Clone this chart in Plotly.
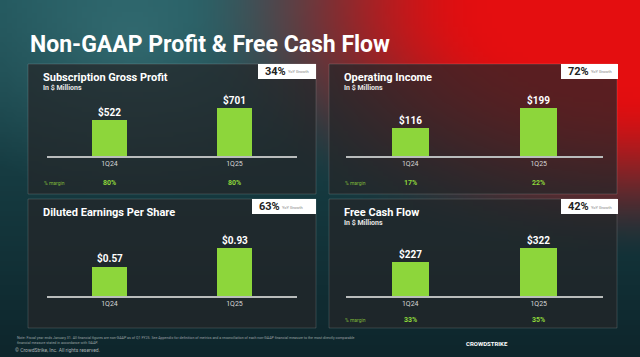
import zlib, struct, base64, math
import plotly.graph_objects as go

# ---------------- data ----------------
categories = ["1Q24", "1Q25"]
panel_titles = ["Subscription Gross Profit", "Operating Income",
                "Diluted Earnings Per Share", "Free Cash Flow"]
panel_subtitles = ["In &#36; Millions", "In &#36; Millions", "", "In &#36; Millions"]
sub_gross_profit = [522, 701]
operating_income = [116, 199]
diluted_eps = [0.57, 0.93]
free_cash_flow = [227, 322]
sub_gp_margin = ["80%", "80%"]
op_inc_margin = ["17%", "22%"]
fcf_margin = ["33%", "35%"]
yoy_growth = ["34%", "72%", "63%", "42%"]

W, H = 640, 357
GREEN = "#8dd63b"

# ---------------- background gradient (decoration) ----------------
def make_png(w, h, fn):
    rows = []
    for j in range(h):
        row = bytearray([0])
        for i in range(w):
            row.extend(fn(i / (w - 1), j / (h - 1)))
        rows.append(bytes(row))
    raw = b"".join(rows)
    def chunk(t, d):
        return struct.pack(">I", len(d)) + t + d + struct.pack(">I", zlib.crc32(t + d) & 0xffffffff)
    return (b"\x89PNG\r\n\x1a\n" + chunk(b"IHDR", struct.pack(">IIBBBBB", w, h, 8, 2, 0, 0, 0))
            + chunk(b"IDAT", zlib.compress(raw, 9)) + chunk(b"IEND", b""))

def bg(u, v):
    x, y = u * W, v * H
    t = min(1.0, y / H)
    base = [30 + (14 - 30) * t, 80 + (38 - 80) * t, 86 + (44 - 86) * t]
    glow = max(0.0, 1 - math.hypot((x - 130) / 220, (y - 40) / 160))
    base = [base[0] + 22 * glow, base[1] + 30 * glow, base[2] + 30 * glow]
    d = math.hypot((W - x) / 460, y / 265)
    w = max(0.0, min(1.0, (1 - d) * 1.5))
    w = w * w * (3 - 2 * w)
    red = [228, 14, 16]
    return [int(max(0, min(255, base[k] * (1 - w) + red[k] * w))) for k in range(3)]

png = make_png(128, 72, bg)
bg_src = "data:image/png;base64," + base64.b64encode(png).decode()

# ---------------- geometry helpers ----------------
def px(x):
    return x / W

def py(y):
    return 1 - y / H

panels = [
    dict(box=(28, 64, 316, 194), xdom=(47, 297), base=156.3, vals=sub_gross_profit,
         fmt="${:,.0f}", margin=sub_gp_margin, gbox=(258, 64, 316, 79), margin_y=183.3),
    dict(box=(329, 64, 617, 194), xdom=(346, 603), base=156.3, vals=operating_income,
         fmt="${:,.0f}", margin=op_inc_margin, gbox=(561, 64, 618, 79), margin_y=183.0),
    dict(box=(28, 199, 316, 328), xdom=(47, 297), base=296.3, vals=diluted_eps,
         fmt="${:.2f}", margin=None, gbox=(252, 199, 316, 214), margin_y=None),
    dict(box=(329, 199, 617, 328), xdom=(346, 603), base=296.3, vals=free_cash_flow,
         fmt="${:,.0f}", margin=fcf_margin, gbox=(561, 199, 618, 214), margin_y=320.0),
]

fig = go.Figure()
shapes, annotations, layout_axes = [], [], {}

for i, p in enumerate(panels):
    n = "" if i == 0 else str(i + 1)
    xa, ya = "x" + n, "y" + n
    fig.add_trace(go.Bar(x=categories, y=p["vals"], xaxis=xa, yaxis=ya,
                         marker=dict(color=GREEN, line=dict(width=0)), width=0.285,
                         showlegend=False, hoverinfo="skip"))
    ymax = max(p["vals"]) * 1.25
    layout_axes["xaxis" + n] = dict(
        domain=[px(p["xdom"][0]), px(p["xdom"][1])], range=[-0.5, 1.5], anchor=ya,
        showline=True, linecolor="#b9bcbc", linewidth=1.5, showgrid=False, zeroline=False,
        ticks="", tickfont=dict(family="Roboto", size=7, color="#d6d6d6"), fixedrange=True)
    layout_axes["yaxis" + n] = dict(
        domain=[py(p["base"]), py(p["base"] - 60)], range=[0, ymax], anchor=xa,
        visible=False, fixedrange=True)

    x0, y0, x1, y1 = p["box"]
    shapes.append(dict(type="rect", xref="paper", yref="paper", x0=px(x0), x1=px(x1),
                       y0=py(y1), y1=py(y0), layer="below",
                       fillcolor="rgba(36,37,40,0.72)",
                       line=dict(color="rgba(255,255,255,0.14)", width=1)))
    gx0, gy0, gx1, gy1 = p["gbox"]
    shapes.append(dict(type="rect", xref="paper", yref="paper", x0=px(gx0), x1=px(gx1),
                       y0=py(gy1), y1=py(gy0), fillcolor="#ffffff", line=dict(width=0)))
    annotations.append(dict(xref="paper", yref="paper", x=px(gx0 + 4.5), y=py((gy0 + gy1) / 2),
                            xanchor="left", yanchor="middle", showarrow=False,
                            text="<b>" + yoy_growth[i] + "</b>",
                            font=dict(family="Roboto", size=11, color="#222222")))
    annotations.append(dict(xref="paper", yref="paper", x=px(gx0 + 28), y=py((gy0 + gy1) / 2 + 0.5),
                            xanchor="left", yanchor="middle", showarrow=False,
                            text="YoY Growth", font=dict(family="Roboto", size=4, color="#888888")))

    # titles
    annotations.append(dict(xref="paper", yref="paper", x=px(x0 + 13), y=py(y0 + 13.5),
                            xanchor="left", yanchor="middle", showarrow=False,
                            text="<b>" + panel_titles[i] + "</b>",
                            font=dict(family="Roboto", size=11, color="#ffffff")))
    if panel_subtitles[i]:
        annotations.append(dict(xref="paper", yref="paper", x=px(x0 + 13), y=py(y0 + 24.3),
                                xanchor="left", yanchor="middle", showarrow=False,
                                text="<b>" + panel_subtitles[i] + "</b>",
                                font=dict(family="Roboto", size=7, color="#e6e6e6")))
    # value labels
    for c, v in zip(categories, p["vals"]):
        annotations.append(dict(xref=xa, yref=ya, x=c, y=v, yshift=8.5,
                                xanchor="center", yanchor="middle", showarrow=False,
                                text="<b>" + p["fmt"].format(v) + "</b>",
                                font=dict(family="Roboto", size=10, color="#ffffff")))
    # margins
    if p["margin"]:
        annotations.append(dict(xref="paper", yref="paper", x=px(x0 + 13.5), y=py(p["margin_y"]),
                                xanchor="left", yanchor="middle", showarrow=False,
                                text="% margin", font=dict(family="Roboto", size=5, color="#7fb83a")))
        for c, m in zip(categories, p["margin"]):
            annotations.append(dict(xref=xa, yref="paper", x=c, y=py(p["margin_y"]),
                                    xanchor="center", yanchor="middle", showarrow=False,
                                    text="<b>" + m + "</b>",
                                    font=dict(family="Roboto", size=7, color=GREEN)))

# main title
annotations.append(dict(xref="paper", yref="paper", x=px(28), y=py(44), xanchor="left",
                        yanchor="middle", showarrow=False,
                        text="<b>Non-GAAP Profit &amp; Free Cash Flow</b>",
                        font=dict(family="Roboto", size=23, color="#ffffff")))
# footer
annotations.append(dict(xref="paper", yref="paper", x=px(15), y=py(337.5), xanchor="left",
                        yanchor="middle", showarrow=False,
                        text=("Note: Fiscal year ends January 31. All financial figures are non-GAAP as of Q1 FY25. "
                              "See Appendix for definition of metrics and a reconciliation of each non-GAAP financial "
                              "measure to the most directly comparable"),
                        font=dict(family="Roboto", size=3.6, color="#9aa2a4")))
annotations.append(dict(xref="paper", yref="paper", x=px(15), y=py(342.5), xanchor="left",
                        yanchor="middle", showarrow=False,
                        text="financial measure stated in accordance with GAAP.",
                        font=dict(family="Roboto", size=3.6, color="#9aa2a4")))
annotations.append(dict(xref="paper", yref="paper", x=px(13), y=py(350), xanchor="left",
                        yanchor="middle", showarrow=False,
                        text="© CrowdStrike, Inc. All rights reserved.",
                        font=dict(family="Roboto", size=5, color="#a8b0b2")))
annotations.append(dict(xref="paper", yref="paper", x=px(464), y=py(343), xanchor="left",
                        yanchor="middle", showarrow=False, text="<b>CROWDSTRIKE</b>",
                        font=dict(family="Roboto", size=6, color="#ffffff")))

fig.update_layout(
    width=W, height=H, margin=dict(l=0, r=0, t=0, b=0),
    paper_bgcolor="#163238", plot_bgcolor="rgba(0,0,0,0)",
    images=[dict(source=bg_src, xref="paper", yref="paper", x=0, y=1, sizex=1, sizey=1,
                 sizing="stretch", layer="below", xanchor="left", yanchor="top")],
    shapes=shapes, annotations=annotations, bargap=0, showlegend=False,
    **layout_axes,
)

fig.write_html("out.html", config=dict(displayModeBar=False),
               post_script="document.body.style.margin='0';document.body.style.overflow='hidden';")
